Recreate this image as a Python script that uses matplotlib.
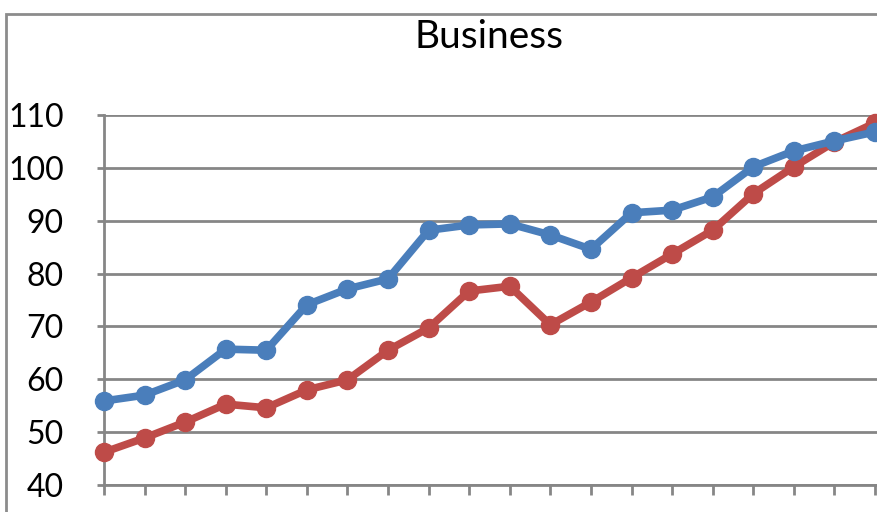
import matplotlib.pyplot as plt
from matplotlib.patches import Rectangle

plt.rcParams['font.family'] = ['Lato', 'DejaVu Sans']

points = list(range(20))
blue_values = [55.9, 57.0, 59.9, 65.7, 65.5, 74.1, 77.1, 79.0, 88.2, 89.2,
               89.4, 87.3, 84.6, 91.5, 92.0, 94.5, 100.2, 103.2, 105.1, 106.8]
red_values = [46.2, 48.9, 51.9, 55.3, 54.6, 58.0, 59.9, 65.5, 69.7, 76.7,
              77.6, 70.3, 74.6, 79.2, 83.7, 88.2, 95.1, 100.2, 104.9, 108.5]
y_ticks = [40, 50, 60, 70, 80, 90, 100, 110]

W, H = 877, 512
fig = plt.figure(figsize=(W / 100, H / 100), dpi=100)

# outer chart border (cropped on the right and bottom)
fig.patches.append(Rectangle((6 / W, -0.1), 1.2, 1 - 14 / H + 0.1,
                             transform=fig.transFigure, fill=False,
                             edgecolor='#8c8c8c', linewidth=2))

px = (875 - 104) / 19
ax = fig.add_axes([104 / W, (H - 485) / H, 19.6 * px / W, (485 - 115) / H])
ax.set_xlim(0, 19.6)
ax.set_ylim(40, 110)

ax.plot(points, red_values, color='#BE4B48', linewidth=5.5, marker='o',
        markersize=13, markeredgecolor='#BE4B48', zorder=3, clip_on=False)
ax.plot(points, blue_values, color='#4A7EBB', linewidth=5.5, marker='o',
        markersize=13, markeredgecolor='#4A7EBB', zorder=4, clip_on=False)

ax.set_yticks(y_ticks)
ax.set_yticklabels([str(v) for v in y_ticks], fontsize=23)
ax.set_xticks(points)
ax.set_xticklabels([])
ax.yaxis.grid(True, color='#868686', linewidth=2)
ax.set_axisbelow(True)
ax.tick_params(axis='y', length=5, width=2, color='#868686', pad=24)
ax.tick_params(axis='x', length=7, width=2, color='#868686')
for side in ['top', 'right']:
    ax.spines[side].set_visible(False)
for side in ['left', 'bottom']:
    ax.spines[side].set_color('#868686')
    ax.spines[side].set_linewidth(2)

fig.text(489 / W, 1 - 37 / H, 'Business', fontsize=28, ha='center', va='center')

fig.savefig('out.png', dpi=100)
